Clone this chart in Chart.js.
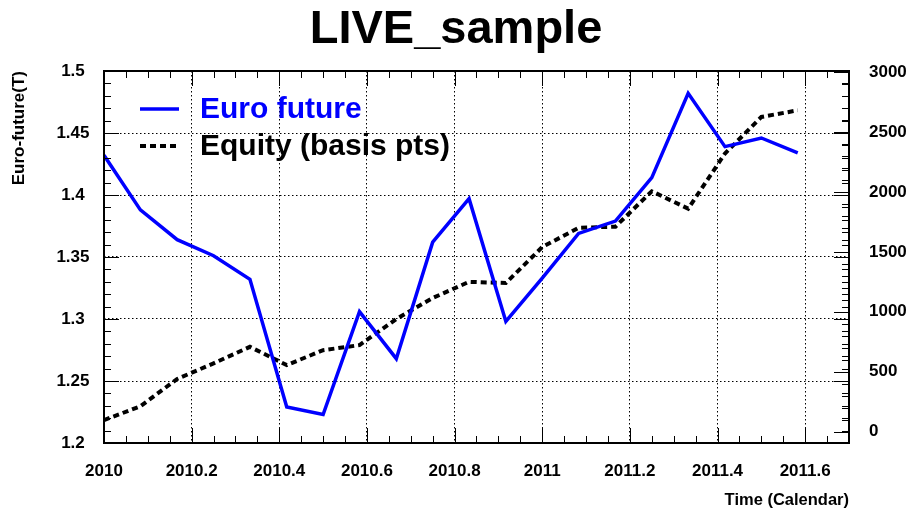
<!DOCTYPE html>
<html>
<head>
<meta charset="utf-8">
<script src="https://cdn.jsdelivr.net/npm/chart.js@4/dist/chart.umd.min.js"></script>
<style>
  html, body { margin: 0; padding: 0; background: #fff; }
  canvas { display: block; }
</style>
</head>
<body>
<canvas id="c" width="912" height="510"></canvas>
<script>
// ---- data ----
const timePoints = [2010.000, 2010.083, 2010.167, 2010.250, 2010.333, 2010.417, 2010.500, 2010.583,
                    2010.667, 2010.750, 2010.833, 2010.917, 2011.000, 2011.083, 2011.167, 2011.250,
                    2011.333, 2011.417, 2011.500, 2011.583];
const euroFuture = [1.432, 1.388, 1.364, 1.351, 1.332, 1.229, 1.223, 1.306, 1.268, 1.362,
                    1.397, 1.298, 1.333, 1.369, 1.379, 1.414, 1.482, 1.439, 1.446, 1.434];
const equity = [97, 212, 440, 570, 708, 556, 680, 722, 940, 1115,
                1250, 1240, 1540, 1700, 1710, 2005, 1860, 2320, 2625, 2680];
const xTicks = [2010, 2010.2, 2010.4, 2010.6, 2010.8, 2011, 2011.2, 2011.4, 2011.6];
const xTickLabels = ['2010', '2010.2', '2010.4', '2010.6', '2010.8', '2011', '2011.2', '2011.4', '2011.6'];
const yLeftTicks = [1.2, 1.25, 1.3, 1.35, 1.4, 1.45, 1.5];
const yLeftTickLabels = ['1.2', '1.25', '1.3', '1.35', '1.4', '1.45', '1.5'];
const yRightTicks = [0, 500, 1000, 1500, 2000, 2500, 3000];
const yRightTickLabels = ['0', '500', '1000', '1500', '2000', '2500', '3000'];
const seriesNames = ['Euro future', 'Equity (basis pts)'];

const FONT = 'Liberation Sans, Arial, Helvetica, sans-serif';

const bgPlugin = {
  id: 'bg',
  beforeDraw(chart) {
    const ctx = chart.ctx;
    ctx.save();
    ctx.fillStyle = '#fff';
    ctx.fillRect(0, 0, chart.width, chart.height);
    ctx.restore();
  }
};

const framePlugin = {
  id: 'rootFrame',
  afterDatasetsDraw(chart) {
    const {ctx, chartArea: a, scales} = chart;
    const sx = scales.x, sl = scales.y, sr = scales.y2;
    ctx.save();
    ctx.strokeStyle = '#000';
    ctx.lineWidth = 1;
    ctx.beginPath();
    // x ticks (bottom + top), every 0.05, major every 0.2
    for (let i = 0; i <= 34; i++) {
      const px = Math.round(sx.getPixelForValue(2010 + i * 0.05)) + 0.5;
      const len = (i % 4 === 0) ? 15 : 7;
      ctx.moveTo(px, a.bottom); ctx.lineTo(px, a.bottom - len);
      ctx.moveTo(px, a.top); ctx.lineTo(px, a.top + len);
    }
    // left y ticks (left + mirrored right), every 0.01, major every 0.05
    for (let i = 0; i <= 30; i++) {
      const py = Math.round(sl.getPixelForValue(1.2 + i * 0.01)) + 0.5;
      const len = (i % 5 === 0) ? 15 : 7;
      ctx.moveTo(a.left, py); ctx.lineTo(a.left + len, py);
      ctx.moveTo(a.right, py); ctx.lineTo(a.right - len, py);
    }
    // right axis ticks, every 100, major every 500
    for (let i = 0; i <= 30; i++) {
      const py = Math.round(sr.getPixelForValue(i * 100)) + 0.5;
      const len = (i % 5 === 0) ? 15 : 7;
      ctx.moveTo(a.right, py); ctx.lineTo(a.right - len, py);
    }
    ctx.stroke();
    ctx.lineWidth = 2;
    ctx.strokeRect(a.left, a.top, a.right - a.left, a.bottom - a.top);
    ctx.restore();
  }
};

const legendPlugin = {
  id: 'rootLegend',
  afterDraw(chart) {
    const {ctx, chartArea: a} = chart;
    ctx.save();
    const rows = [38, 75];
    chart.data.datasets.forEach((ds, i) => {
      const y = a.top + rows[i];
      ctx.beginPath();
      ctx.strokeStyle = ds.borderColor;
      ctx.lineWidth = ds.borderWidth;
      ctx.setLineDash(ds.borderDash || []);
      ctx.moveTo(a.left + 36, y);
      ctx.lineTo(a.left + 75, y);
      ctx.stroke();
      ctx.setLineDash([]);
      ctx.fillStyle = i === 0 ? '#0000ff' : '#000';
      ctx.font = 'bold 30px ' + FONT;
      ctx.textAlign = 'left';
      ctx.textBaseline = 'middle';
      ctx.fillText(ds.label, a.left + 96, y + 1);
    });
    ctx.restore();
  }
};

const tickFont = { family: FONT, size: 17, weight: 'bold' };

new Chart(document.getElementById('c'), {
  type: 'line',
  data: {
    datasets: [
      {
        label: seriesNames[0],
        data: timePoints.map((t, i) => ({ x: t, y: euroFuture[i] })),
        borderColor: '#0000ff',
        borderWidth: 3.5,
        pointRadius: 0,
        tension: 0,
        fill: false,
        yAxisID: 'y'
      },
      {
        label: seriesNames[1],
        data: timePoints.map((t, i) => ({ x: t, y: equity[i] })),
        borderColor: '#000000',
        borderWidth: 4,
        borderDash: [6, 4],
        pointRadius: 0,
        tension: 0,
        fill: false,
        yAxisID: 'y2'
      }
    ]
  },
  options: {
    responsive: false,
    animation: false,
    devicePixelRatio: 1,
    layout: { padding: 0 },
    plugins: {
      legend: { display: false },
      tooltip: { enabled: false },
      title: {
        display: true,
        text: 'LIVE_sample',
        color: '#000',
        font: { family: FONT, size: 47, weight: 'bold', lineHeight: 1.2 },
        padding: { top: 2, bottom: 12.6 }
      }
    },
    scales: {
      x: {
        type: 'linear',
        min: 2010,
        max: 2011.7,
        afterBuildTicks: s => { s.ticks = xTicks.map(v => ({ value: v })); },
        afterFit: s => { s.height = 67; },
        ticks: {
          autoSkip: false, maxRotation: 0, padding: 18, color: '#000', font: tickFont,
          callback: (v, i) => xTickLabels[i]
        },
        grid: { color: '#000', lineWidth: 1, drawTicks: false },
        border: { display: false, dash: [1.5, 2.5] },
        title: {
          display: true, text: 'Time (Calendar)', align: 'end', color: '#000',
          font: { family: FONT, size: 16.5, weight: 'bold' },
          padding: { top: 2.4, bottom: 0 }
        }
      },
      y: {
        position: 'left',
        min: 1.2,
        max: 1.5,
        afterBuildTicks: s => { s.ticks = yLeftTicks.map(v => ({ value: v })); },
        afterFit: s => { s.width = 104; },
        ticks: {
          crossAlign: 'center', padding: 14.5, color: '#000', font: tickFont,
          callback: (v, i) => yLeftTickLabels[i]
        },
        grid: { color: '#000', lineWidth: 1, drawTicks: false },
        border: { display: false, dash: [1.5, 2.5] },
        title: {
          display: true, text: 'Euro-future(T)', align: 'end', color: '#000',
          font: { family: FONT, size: 17, weight: 'bold' },
          padding: { top: 9, bottom: 0 }
        }
      },
      y2: {
        position: 'right',
        min: -94,
        max: 3008,
        afterBuildTicks: s => { s.ticks = yRightTicks.map(v => ({ value: v })); },
        afterFit: s => { s.width = 63; },
        ticks: {
          crossAlign: 'near', padding: 20, color: '#000', font: tickFont,
          callback: (v, i) => yRightTickLabels[i]
        },
        grid: { display: false, drawTicks: false },
        border: { display: false }
      }
    }
  },
  plugins: [bgPlugin, framePlugin, legendPlugin]
});
</script>
</body>
</html>
